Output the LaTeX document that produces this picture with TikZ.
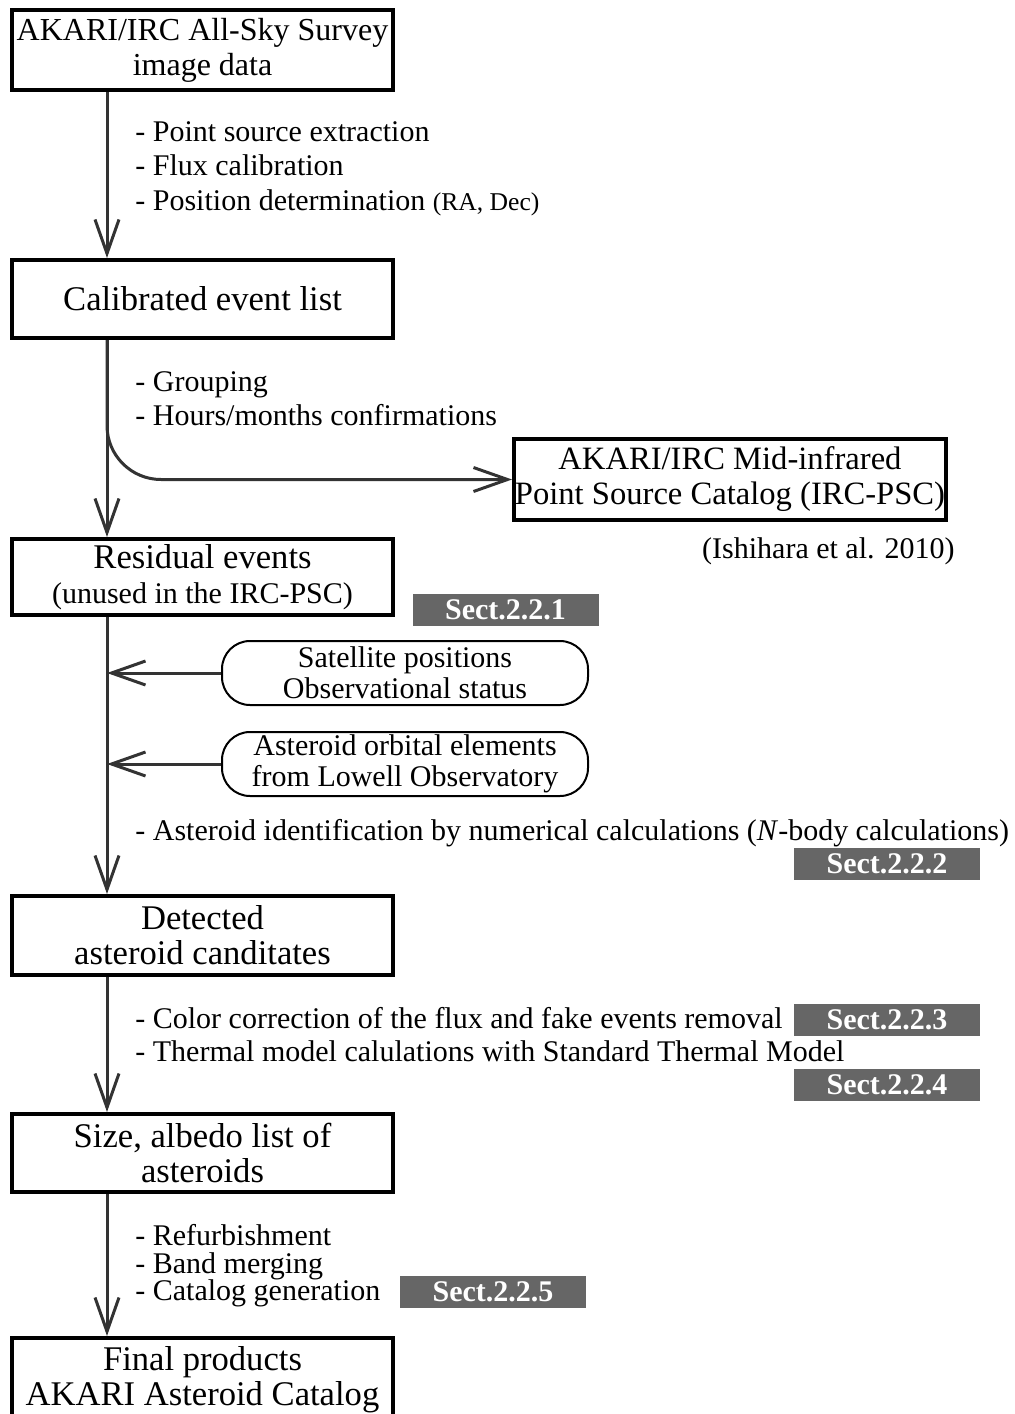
\documentclass[tikz,border=0pt]{standalone}
\usepackage{fontspec}
\setmainfont{Liberation Serif}
\usetikzlibrary{arrows.meta}

\definecolor{sectgray}{HTML}{666666}
\definecolor{linegray}{HTML}{333333}

\tikzset{
  stepbox/.style={draw=black,line width=2pt,inner sep=0pt,align=center,
    minimum width=190.5pt,font=\fontsize{17.3}{17.5}\selectfont},
  rbox/.style={draw=black,line width=1pt,rounded corners=14pt,inner sep=0pt,
    align=center,minimum width=183pt,minimum height=32pt,
    font=\fontsize{15}{15.5}\selectfont},
  sect/.style={fill=sectgray,text=white,inner sep=0pt,minimum width=93pt,
    minimum height=16pt,font=\bfseries\fontsize{15}{15}\selectfont},
  note/.style={anchor=base west,inner sep=0pt,font=\fontsize{15}{17}\selectfont},
  flow/.style={draw=linegray,line width=1.5pt,
    -{Straight Barb[length=17pt,width=12pt]}}
}

\begin{document}
\begin{tikzpicture}[x=0.5pt,y=-0.5pt]
\useasboundingbox (0,0) rectangle (1015,1414);
\coordinate (spine) at (107,0);

% main boxes
\node[stepbox,minimum height=40pt,font=\fontsize{16}{17.5}\selectfont] (img) at (202.5,50) {AKARI/IRC All-Sky Survey\\image data};
\node[stepbox,minimum height=39pt] (evlist) at (202.5,299) {Calibrated event list};
\node[stepbox,minimum height=38pt] (resid) at (202.5,577) {Residual events\\{\fontsize{15}{15}\selectfont(unused in the IRC-PSC)}};
\node[stepbox,minimum height=39.5pt] (detect) at (202.5,935.5) {Detected\\asteroid canditates};
\node[stepbox,minimum height=39pt] (sizes) at (202.5,1153) {Size, albedo list of\\asteroids};
\node[stepbox,minimum height=42pt] (final) at (202.5,1380) {Final products\\AKARI Asteroid Catalog};

\node[stepbox,minimum width=216pt,minimum height=40.5pt,font=\fontsize{16.3}{17.5}\selectfont] (psc) at (730,479.5) {AKARI/IRC Mid-infrared\\Point Source Catalog (IRC-PSC)};
\node[note,anchor=base east] (ref) at (955,558) {(Ishihara et al. 2010)};

% input boxes
\node[rbox] (sat) at (405,673) {Satellite positions\\Observational status};
\node[rbox] (orb) at (405,764) {Asteroid orbital elements\\from Lowell Observatory};

% section tags
\node[sect] (s1) at (505.5,610) {Sect.2.2.1};
\node[sect] (s2) at (887,864) {Sect.2.2.2};
\node[sect] (s3) at (887,1019.5) {Sect.2.2.3};
\node[sect] (s4) at (887,1084.5) {Sect.2.2.4};
\node[sect] (s5) at (493,1292) {Sect.2.2.5};

% processing steps
\node[note] (n1) at (135,141) {- Point source extraction};
\node[note] (n2) at (135,175) {- Flux calibration};
\node[note] (n3) at (135,210) {- Position determination {\fontsize{12.8}{13}\selectfont(RA, Dec)}};
\node[note] (n4) at (135,391) {- Grouping};
\node[note] (n5) at (135,425) {- Hours/months confirmations};
\node[note] (n6) at (135,840) {- Asteroid identification by numerical calculations (\textit{N}-body calculations)};
\node[note] (n7) at (135,1028) {- Color correction of the flux and fake events removal};
\node[note] (n8) at (135,1061) {- Thermal model calulations with Standard Thermal Model};
\node[note] (n9) at (135,1245) {- Refurbishment};
\node[note] (n10) at (135,1273) {- Band merging};
\node[note] (n11) at (135,1300) {- Catalog generation};

% connectors
\draw[flow] (img.south -| spine) -- (evlist.north -| spine);
\draw[flow] (evlist.south -| spine) -- (resid.north -| spine);
\draw[flow,rounded corners=27pt] (evlist.south -| spine) |- (psc.west);
\draw[flow] (resid.south -| spine) -- (detect.north -| spine);
\draw[flow] (sat.west) -- (sat.west -| spine);
\draw[flow] (orb.west) -- (orb.west -| spine);
\draw[flow] (detect.south -| spine) -- (sizes.north -| spine);
\draw[flow] (sizes.south -| spine) -- (final.north -| spine);
\end{tikzpicture}
\end{document}
